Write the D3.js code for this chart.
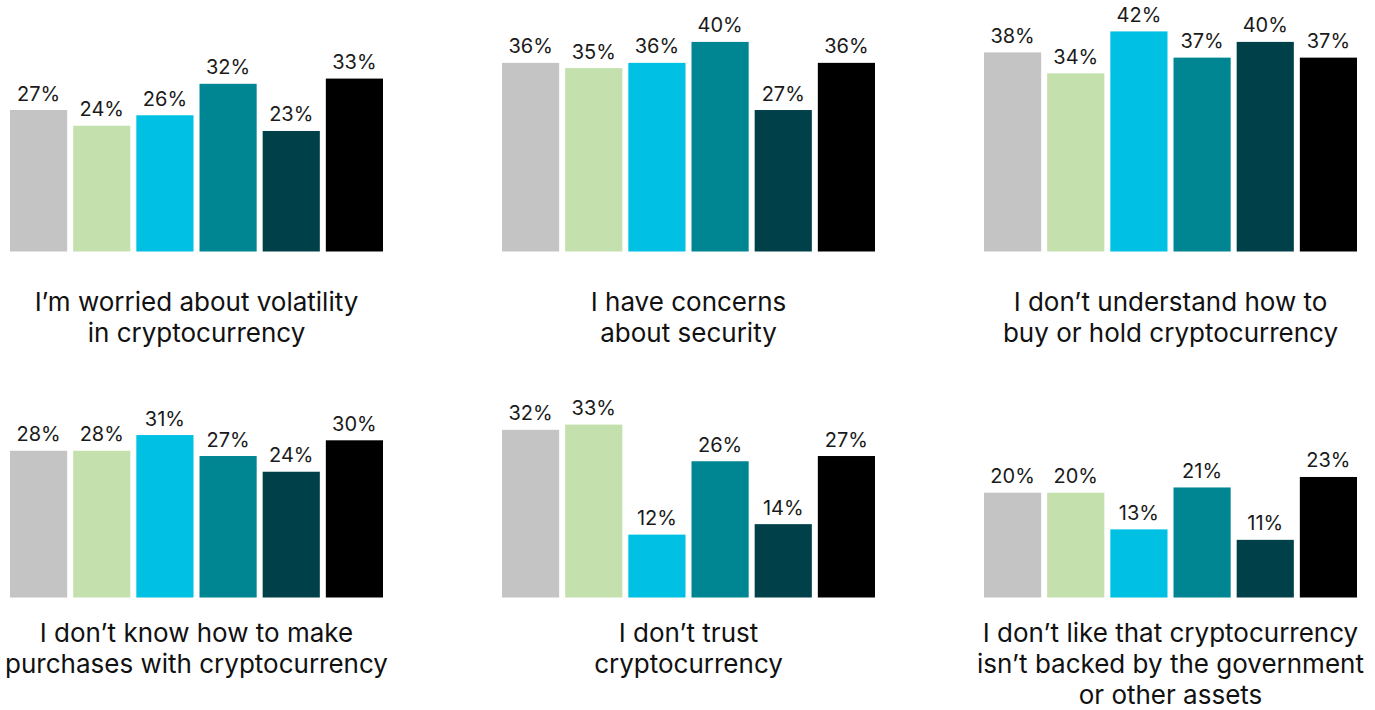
<!DOCTYPE html>
<html><head><meta charset="utf-8">
<script src="https://cdn.jsdelivr.net/npm/d3@7"></script>
<style>
html,body{margin:0;padding:0;background:#fff;}
svg{display:block;font-family:Inter, "Noto Sans", sans-serif;}
</style></head>
<body>
<svg id="chart" width="1375" height="710"></svg>
<script>
const groups = ["Group 1","Group 2","Group 3","Group 4","Group 5","Group 6"];
const colors = ["#c4c4c4","#c3e0ad","#00c0e3","#008592","#004149","#000000"];
const titles = [
  ["I’m worried about volatility","in cryptocurrency"],
  ["I have concerns","about security"],
  ["I don’t understand how to","buy or hold cryptocurrency"],
  ["I don’t know how to make","purchases with cryptocurrency"],
  ["I don’t trust","cryptocurrency"],
  ["I don’t like that cryptocurrency","isn’t backed by the government","or other assets"]
];
const volatility = [27,24,26,32,23,33];
const security   = [36,35,36,40,27,36];
const understand = [38,34,42,37,40,37];
const purchases  = [28,28,31,27,24,30];
const trust      = [32,33,12,26,14,27];
const backed     = [20,20,13,21,11,23];
const panelValues = [volatility,security,understand,purchases,trust,backed];

const svg = d3.select("#chart");
const panelX = [10, 502, 984];
const panelW = 373;
const baselines = [251.5, 597.5];
const titleBase = [311, 642];
const pxPerPct = 5.24;

panelValues.forEach((vals, i) => {
  const col = i % 3, row = Math.floor(i / 3);
  const x = d3.scaleBand().domain(groups).range([panelX[col], panelX[col] + panelW]).paddingInner(0.095).paddingOuter(0);
  const y = d3.scaleLinear().domain([0, 42]).range([baselines[row], baselines[row] - 42 * pxPerPct]);
  const g = svg.append("g");
  const data = groups.map((k, j) => ({k, v: vals[j], c: colors[j]}));
  g.selectAll("rect").data(data).join("rect")
    .attr("x", d => x(d.k)).attr("width", x.bandwidth())
    .attr("y", d => y(d.v)).attr("height", d => y(0) - y(d.v))
    .attr("fill", d => d.c);
  g.selectAll("text.val").data(data).join("text").attr("class","val")
    .attr("x", d => x(d.k) + x.bandwidth() / 2)
    .attr("y", d => y(d.v) - 9.5)
    .attr("text-anchor", "middle")
    .attr("font-size", 20).attr("fill", "#1a1a1a")
    .text(d => d.v + "%");
  const cx = panelX[col] + panelW / 2;
  const t = g.append("text").attr("text-anchor","middle").attr("font-size",26).attr("fill","#111");
  titles[i].forEach((line, li) => {
    t.append("tspan").attr("x", cx).attr("y", titleBase[row] + li * 31).text(line);
  });
});
</script>
</body></html>
